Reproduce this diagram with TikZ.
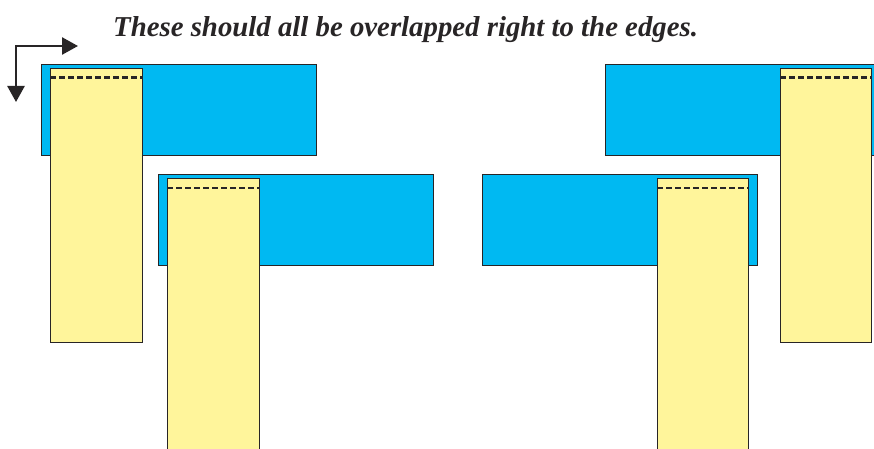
\documentclass[tikz,border=0pt]{standalone}
\usepackage{fontspec}
\setmainfont{Liberation Serif}
\usepackage{xcolor}
\usepackage{tikz}
\usetikzlibrary{arrows.meta}
\usetikzlibrary{positioning}

\definecolor{panelblue}{RGB}{0,185,242}
\definecolor{stripyellow}{RGB}{255,245,155}
\definecolor{inkgray}{RGB}{40,37,38}

\begin{document}
\begin{tikzpicture}[
  x=1pt, y=-1pt,
  panel/.style={fill=panelblue,draw=inkgray,line width=0.8pt},
  strip/.style={fill=stripyellow,draw=inkgray,line width=0.8pt},
  fold/.style={draw=inkgray,line width=2.4pt,dash pattern=on 6pt off 3pt},
  turn/.style={draw=inkgray,line width=2.6pt,{Triangle[length=16pt,width=17pt]}-{Triangle[length=16pt,width=17pt]}}
]
  \clip (0,0) rectangle (874,449);

  \node[font=\fontsize{28.8}{32}\selectfont\bfseries\itshape,text=inkgray,anchor=base west,inner sep=0pt]
    (note) at (113,37) {These should all be overlapped right to the edges.};

  \coordinate (downtip) at (16,102);
  \coordinate (bend)    at (16,46);
  \coordinate (righttip) at (78,46);
  \draw[turn] (downtip) -- (bend) -- (righttip);

  % left pair
  \filldraw[panel] (41,64)  rectangle (316,155);
  \filldraw[strip] (50,68)  rectangle (142,342);
  \draw[fold] (50,77.7) -- (142,77.7);
  \filldraw[panel] (158,174) rectangle (433,265);
  \filldraw[strip] (167,178) rectangle (259,460);
  \draw[fold] (167,187.7) -- (259,187.7);

  % right pair
  \filldraw[panel] (605,64)  rectangle (890,155);
  \filldraw[strip] (780,68)  rectangle (871,342);
  \draw[fold] (780,77.7) -- (871,77.7);
  \filldraw[panel] (482,174) rectangle (757,265);
  \filldraw[strip] (657,178) rectangle (748,460);
  \draw[fold] (657,187.7) -- (748,187.7);
\end{tikzpicture}
\end{document}
